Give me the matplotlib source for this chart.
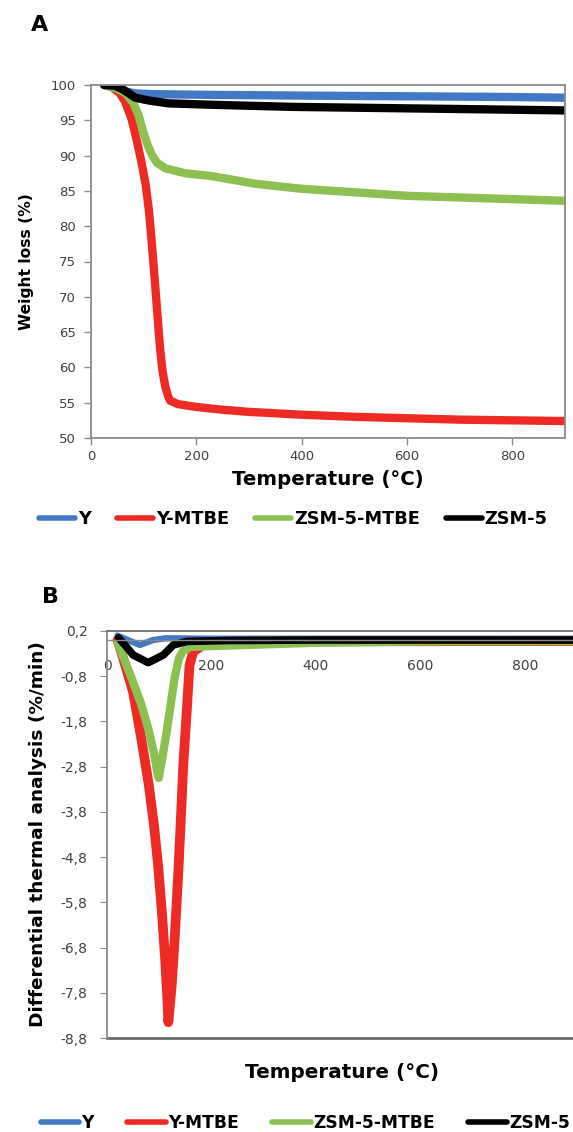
import numpy as np
import matplotlib
matplotlib.use('Agg')
import matplotlib.pyplot as plt

plt.rcParams['font.family'] = ['DejaVu Sans']

# --- dati ---
series = ['Y', 'Y-MTBE', 'ZSM-5-MTBE', 'ZSM-5']
colors = ['#4179c4', '#ee2a24', '#8cc152', '#000000']

# pannello A: TGA (peso %)
T_y = [25, 45, 60, 84, 120, 229, 400, 600, 800, 900]
w_y = [100, 99.8, 99.2, 98.8, 98.7, 98.6, 98.5, 98.4, 98.3, 98.2]

T_ymtbe = [25, 40, 55, 65, 77, 88, 96, 104, 110, 115, 120, 125, 131, 136, 141, 146, 150,
           165, 200, 250, 300, 400, 500, 600, 700, 800, 900]
w_ymtbe = [100, 99.7, 98.8, 97.6, 95.2, 91.8, 89.0, 85.8, 82.2, 78.0, 73.4, 68.6, 62.8,
           59.4, 57.3, 56.0, 55.3, 54.8, 54.4, 54.0, 53.7, 53.3, 53.0, 52.8, 52.6, 52.5, 52.4]

T_zmtbe = [25, 45, 65, 80, 90, 99, 107, 115, 125, 141, 179, 229, 313, 400, 521, 600,
           730, 900]
w_zmtbe = [100, 99.6, 98.9, 97.5, 95.8, 93.4, 91.6, 90.2, 89.0, 88.2, 87.5, 87.1, 86.0,
           85.3, 84.7, 84.3, 84.0, 83.6]

T_z = [25, 45, 60, 84, 110, 147, 229, 383, 591, 750, 900]
w_z = [100, 99.9, 99.4, 98.2, 97.8, 97.4, 97.2, 96.9, 96.7, 96.55, 96.4]

# pannello B: DTG (%/min)
T_dy = [20, 40, 63, 88, 113, 200, 400, 600, 800, 900]
d_y = [0.1, 0.0, -0.11, 0.0, 0.04, 0.03, 0.03, 0.03, 0.03, 0.03]

T_dymtbe = [20, 31, 50, 66, 80, 90, 98, 105, 111, 115, 117.5, 124, 130, 137, 143, 146,
            153, 158, 165, 185, 250, 400, 900]
d_ymtbe = [0.0, -0.4, -1.15, -2.2, -3.2, -4.1, -5.0, -6.0, -7.0, -7.8, -8.45, -7.63,
           -6.52, -5.04, -3.56, -2.78, -1.52, -0.56, -0.26, -0.1, -0.05, -0.03, -0.02]

T_dzmtbe = [20, 44, 65, 80, 90, 96, 99, 106, 114, 121, 130, 138, 145, 159, 236, 400,
            600, 900]
d_zmtbe = [-0.05, -0.75, -1.4, -2.0, -2.5, -2.9, -3.05, -2.6, -2.05, -1.5, -0.8, -0.4,
           -0.25, -0.15, -0.12, -0.06, -0.03, -0.02]

T_dz = [22, 35, 50, 79, 108, 127, 153, 236, 400, 600, 900]
d_z = [0.05, -0.12, -0.33, -0.5, -0.33, -0.11, -0.03, -0.01, 0.0, 0.0, 0.0]

ticksA_y = [50, 55, 60, 65, 70, 75, 80, 85, 90, 95, 100]
ticks_x = [0, 200, 400, 600, 800]
ticksB_y = [0.2, -0.8, -1.8, -2.8, -3.8, -4.8, -5.8, -6.8, -7.8, -8.8]
ticksB_lab = ['0,2', '-0,8', '-1,8', '-2,8', '-3,8', '-4,8', '-5,8', '-6,8', '-7,8', '-8,8']

txt = '#404040'
grey = '#8a8a8a'

fig = plt.figure(figsize=(5.73, 11.32), dpi=100)

# ---------------- pannello A ----------------
axA = fig.add_axes([91/573, 1-438/1132, (565-91)/573, (438-85)/1132])
dataA = [(T_y, w_y), (T_ymtbe, w_ymtbe), (T_zmtbe, w_zmtbe), (T_z, w_z)]
linesA = []
for (t, w), c, s in zip(dataA, colors, series):
    l, = axA.plot(t, w, color=c, lw=6, solid_capstyle='round', solid_joinstyle='round',
                  label=s)
    linesA.append(l)
axA.set_xlim(0, 900)
axA.set_ylim(50, 100)
axA.set_xticks(ticks_x)
axA.set_yticks(ticksA_y)
axA.tick_params(axis='both', direction='out', length=5, width=1, colors=grey,
                labelcolor=txt, labelsize=9.5)
axA.tick_params(axis='y', pad=6)
axA.tick_params(axis='x', pad=4)
for sp in axA.spines.values():
    sp.set_color(grey)
    sp.set_linewidth(1.3)
axA.set_xlabel('Temperature (°C)', fontsize=14.2, fontweight='bold', labelpad=5)
axA.set_ylabel('Weight loss (%)', fontsize=11.2, fontweight='bold', labelpad=12)
fig.text(40/573, 1-25/1132, 'A', fontsize=16, fontweight='bold', ha='center', va='center')

legA = fig.legend(linesA, series, loc='center left', bbox_to_anchor=(39/573, 1-519/1132),
                  ncol=4, frameon=False, handlelength=2.05, handletextpad=0.15,
                  columnspacing=1.45, borderpad=0, borderaxespad=0,
                  prop=dict(weight='bold', size=12.8))
for h in legA.legend_handles:
    h.set_linewidth(4)

# ---------------- pannello B ----------------
axB = fig.add_axes([107/573, 1-1038/1132, (577-107)/573, (1038-631)/1132])
dataB = [(T_dy, d_y), (T_dymtbe, d_ymtbe), (T_dzmtbe, d_zmtbe), (T_dz, d_z)]
lwB = [4.5, 7, 6, 5.5]
linesB = []
for (t, d), c, s, lw in zip(dataB, colors, series, lwB):
    l, = axB.plot(t, d, color=c, lw=lw, solid_capstyle='round', solid_joinstyle='round',
                  label=s)
    linesB.append(l)
axB.set_xlim(0, 900)
axB.set_ylim(-8.8, 0.2)
axB.set_xticks(ticks_x)
axB.set_yticks(ticksB_y)
axB.set_yticklabels(ticksB_lab)
axB.spines['bottom'].set_position(('data', 0))
axB.spines['bottom'].set_color(grey)
axB.spines['bottom'].set_linewidth(1)
axB.spines['right'].set_visible(False)
axB.spines['left'].set_color(grey)
axB.spines['left'].set_linewidth(1.3)
axB.spines['top'].set_color('#707070')
axB.spines['top'].set_linewidth(1.3)
axB.axhline(-8.8, color='#6a6a6a', lw=2, clip_on=False, zorder=0)
axB.tick_params(axis='x', length=0, pad=14, labelsize=10, labelcolor=txt)
axB.tick_params(axis='y', direction='out', length=5, colors=grey, labelcolor=txt,
                labelsize=10, pad=9)
fig.text(342/573, 1-1072/1132, 'Temperature (°C)', fontsize=14.4, fontweight='bold',
         ha='center', va='center')
axB.set_ylabel('Differential thermal analysis (%/min)', fontsize=13.3, fontweight='bold',
               labelpad=10)
fig.text(51/573, 1-597/1132, 'B', fontsize=16, fontweight='bold', ha='center', va='center')

legB = fig.legend(linesB, series, loc='center left', bbox_to_anchor=(40.5/573, 1-1123/1132),
                  ncol=4, frameon=False, handlelength=2.25, handletextpad=0.15,
                  columnspacing=1.95, borderpad=0, borderaxespad=0,
                  prop=dict(weight='bold', size=12.3))
for h in legB.legend_handles:
    h.set_linewidth(4)

fig.savefig('out.png', dpi=100, facecolor='w')
